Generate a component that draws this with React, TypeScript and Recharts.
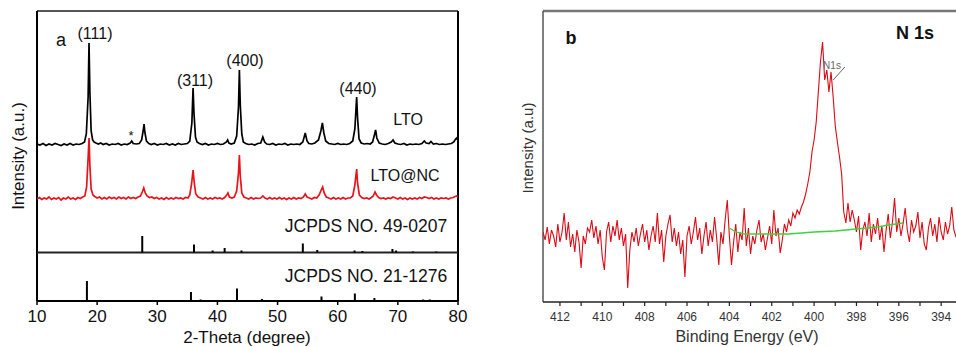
import { ComposedChart, Line, XAxis, YAxis, ReferenceLine } from 'recharts';

// ---- panel a: XRD ----
const XRD_TICKS = [10, 20, 30, 40, 50, 60, 70, 80];

// [2-theta, relative intensity]
const LTO_PATTERN: [number, number][] = [
  [10.0, 1], [10.5, 0], [11.0, 1.5], [11.5, -0.5], [12.0, 1], [12.5, 0], [13.0, 1.5], [13.5, 0.5],
  [14.0, -0.5], [14.5, 1], [15.0, 0], [15.5, 1.5], [16.0, 0], [16.5, 1], [17.0, 0.5], [17.5, 1.5],
  [17.9, 3], [18.2, 11], [18.5, 48], [18.65, 102], [18.8, 52], [19.0, 14], [19.25, 5], [19.5, 3],
  [19.8, 2], [20.2, 1], [20.6, 2], [21.0, 0.5], [21.5, 1.5], [22.0, 0], [22.5, 1], [23.0, 0.5],
  [23.5, 1.5], [24.0, 0], [24.5, 1], [25.0, 0.5], [25.5, 2], [25.75, 4], [26.0, 1.5], [26.5, 1],
  [27.0, 1.5], [27.4, 5], [27.65, 14], [27.8, 21], [27.95, 12], [28.2, 4], [28.6, 1.5], [29.0, 0.5],
  [29.5, 1.5], [30.0, 0], [30.5, 1], [31.0, 0.5], [31.5, 1.5], [32.0, 0], [32.5, 1], [33.0, 0],
  [33.5, 1.5], [34.0, 0.5], [34.5, 1], [35.0, 1.5], [35.4, 4], [35.75, 22], [35.95, 57], [36.1, 32],
  [36.35, 8], [36.6, 3], [37.0, 1.5], [37.5, 0.5], [38.0, 1.5], [38.5, 0], [39.0, 1], [39.5, 0.5],
  [40.0, 1.5], [40.5, 0.5], [41.0, 1], [41.5, 3], [41.7, 5], [41.9, 2], [42.3, 1], [42.8, 2],
  [43.2, 9], [43.5, 38], [43.65, 75], [43.8, 40], [44.05, 11], [44.3, 3], [44.7, 1.5], [45.2, 0.5],
  [45.7, 1], [46.2, 0], [46.7, 1.5], [47.2, 2], [47.55, 8], [47.85, 3], [48.2, 1], [48.7, 0.5],
  [49.2, 1.5], [49.7, 0], [50.2, 1], [50.7, 0.5], [51.2, 1.5], [51.7, 0], [52.2, 1], [52.7, 0.5],
  [53.2, 1], [53.7, 0.5], [54.2, 3], [54.6, 12], [54.9, 4], [55.2, 1.5], [55.7, 1], [56.2, 2],
  [56.8, 5], [57.2, 14], [57.45, 22], [57.7, 12], [58.0, 4], [58.5, 1.5], [59.0, 1], [59.5, 0.5],
  [60.0, 1.5], [60.5, 0.5], [61.0, 1], [61.5, 0.5], [62.0, 1.5], [62.5, 4], [62.85, 16], [63.15, 48],
  [63.3, 27], [63.55, 6], [63.9, 2], [64.4, 1], [64.9, 1.5], [65.4, 1], [65.8, 3], [66.1, 10],
  [66.3, 15], [66.5, 7], [66.9, 2], [67.4, 1], [67.9, 0.5], [68.4, 1.5], [68.9, 3], [69.2, 5],
  [69.5, 2], [70.0, 1], [70.5, 0.5], [71.0, 1.5], [71.5, 0], [72.0, 1], [72.5, 0.5], [73.0, 1],
  [73.5, 0.5], [74.0, 1.5], [74.4, 4], [74.7, 2], [75.2, 1.5], [75.5, 3.5], [75.9, 1], [76.4, 1.5],
  [76.9, 0.5], [77.4, 1], [77.9, 0.5], [78.4, 1], [78.9, 1.5], [79.3, 3], [79.6, 6], [79.8, 7],
  [80.0, 4],
];

// red curve
const LTO_NC_PATTERN: [number, number][] = [
  [10.0, 1], [10.4, 2.5], [10.8, 0.5], [11.2, 2], [11.6, 1], [12.0, 3], [12.4, 0.5], [12.8, 2],
  [13.2, 1], [13.6, 2.5], [14.0, 0], [14.4, 2], [14.8, 1], [15.2, 3], [15.6, 1], [16.0, 2],
  [16.4, 0.5], [16.8, 2.5], [17.2, 1.5], [17.6, 3], [17.95, 4], [18.25, 13], [18.5, 42], [18.65, 62],
  [18.8, 34], [19.0, 11], [19.3, 5], [19.6, 3.5], [20.0, 2], [20.4, 3], [20.8, 1], [21.2, 2.5],
  [21.6, 1], [22.0, 3], [22.4, 1.5], [22.8, 2.5], [23.2, 1], [23.6, 3], [24.0, 1.5], [24.4, 2.5],
  [24.8, 1], [25.2, 3], [25.6, 1.5], [26.0, 2.5], [26.4, 1.5], [26.8, 3], [27.2, 4], [27.5, 8],
  [27.75, 12], [28.0, 7], [28.3, 4], [28.7, 2.5], [29.1, 3], [29.5, 1.5], [29.9, 2.5], [30.3, 1],
  [30.7, 2], [31.1, 0.5], [31.5, 2.5], [31.9, 1], [32.3, 2], [32.7, 1], [33.1, 2.5], [33.5, 1.5],
  [33.9, 2], [34.3, 1], [34.7, 2.5], [35.1, 2], [35.4, 5], [35.7, 16], [35.95, 30], [36.15, 17],
  [36.4, 6], [36.8, 3], [37.2, 2], [37.6, 1], [38.0, 2.5], [38.4, 1], [38.8, 2], [39.2, 1],
  [39.6, 2.5], [40.0, 1.5], [40.4, 2], [40.8, 1], [41.2, 2.5], [41.55, 5], [41.75, 7], [42.0, 3],
  [42.4, 2], [42.8, 3], [43.2, 9], [43.5, 27], [43.65, 45], [43.8, 24], [44.05, 7], [44.4, 3],
  [44.8, 2], [45.2, 1], [45.6, 2.5], [46.0, 1], [46.4, 2], [46.8, 1.5], [47.2, 2], [47.55, 4],
  [47.9, 2], [48.3, 1], [48.7, 2.5], [49.1, 1], [49.5, 2], [49.9, 1], [50.3, 2.5], [50.7, 1],
  [51.1, 2], [51.5, 0.5], [51.9, 2], [52.3, 1], [52.7, 2.5], [53.1, 1], [53.5, 2], [53.9, 1.5],
  [54.3, 3], [54.6, 6], [54.9, 3], [55.3, 2], [55.7, 1], [56.1, 2.5], [56.5, 2], [56.9, 5],
  [57.25, 10], [57.5, 13], [57.75, 7], [58.1, 3], [58.5, 2], [58.9, 1], [59.3, 2.5], [59.7, 1],
  [60.1, 2], [60.5, 1], [60.9, 2.5], [61.3, 1], [61.7, 2], [62.1, 2], [62.5, 4], [62.85, 15],
  [63.15, 31], [63.3, 17], [63.6, 5], [64.0, 2.5], [64.4, 1.5], [64.8, 2], [65.2, 1], [65.6, 2.5],
  [65.9, 4], [66.2, 8], [66.45, 5], [66.8, 2.5], [67.2, 1.5], [67.6, 2], [68.0, 1], [68.4, 2],
  [68.8, 1.5], [69.2, 3], [69.6, 2], [70.0, 1], [70.4, 2.5], [70.8, 1], [71.2, 2], [71.6, 0.5],
  [72.0, 2], [72.4, 1], [72.8, 2], [73.2, 1], [73.6, 2.5], [74.0, 1.5], [74.4, 3], [74.8, 2.5],
  [75.2, 1.5], [75.6, 2.5], [76.0, 1], [76.4, 2], [76.8, 1], [77.2, 2], [77.6, 1.5], [78.0, 2],
  [78.4, 1], [78.8, 2], [79.2, 2.5], [79.5, 3.5], [79.8, 4], [80.0, 3],
];

// reference sticks [2-theta, height]
const JCPDS_49_0207: [number, number][] = [
  [27.5, 16.5], [36.1, 8], [39.2, 2], [41.2, 4.5], [44.0, 2], [54.2, 9], [56.6, 2.5],
  [62.8, 2], [64.1, 1.5], [69.1, 3.5], [69.7, 2], [72.5, 1], [76.4, 1],
];
const JCPDS_21_1276: [number, number][] = [
  [18.3, 20], [35.6, 9], [37.2, 1.5], [43.25, 12.5], [47.4, 2], [57.3, 4.5],
  [62.85, 7.5], [66.1, 3], [74.2, 1.5], [75.3, 1.5],
];

const LTO_OFFSET = 156;
const NC_OFFSET = 101;
const JCPDS_49_BASE = 48.5;

// ---- panel b: XPS N 1s ----
const XPS_TICKS = [394, 395, 396, 397, 398, 399, 400, 401, 402, 403, 404, 405, 406, 407, 408, 409, 410, 411, 412];

// [binding energy, counts (a.u.)]
const XPS_N1S: [number, number][] = [
  [412.8, 70], [412.7, 62], [412.6, 75], [412.5, 58], [412.4, 72], [412.3, 66], [412.2, 55], [412.1, 78],
  [412.0, 60], [411.9, 70], [411.8, 89], [411.7, 62], [411.6, 80], [411.5, 55], [411.4, 68], [411.3, 50],
  [411.2, 72], [411.1, 60], [411.0, 34], [410.9, 66], [410.8, 58], [410.7, 74], [410.6, 70], [410.5, 82],
  [410.4, 64], [410.3, 76], [410.2, 58], [410.1, 72], [410.0, 45], [409.9, 32], [409.8, 70], [409.7, 80],
  [409.6, 60], [409.5, 76], [409.4, 66], [409.3, 82], [409.2, 62], [409.1, 74], [409.0, 56], [408.9, 68],
  [408.8, 14], [408.7, 52], [408.6, 70], [408.5, 60], [408.4, 74], [408.3, 56], [408.2, 68], [408.1, 78],
  [408.0, 60], [407.9, 72], [407.8, 52], [407.7, 66], [407.6, 76], [407.5, 60], [407.4, 89], [407.3, 58],
  [407.2, 72], [407.1, 40], [407.0, 66], [406.9, 78], [406.8, 87], [406.7, 60], [406.6, 74], [406.5, 56],
  [406.4, 70], [406.3, 48], [406.2, 62], [406.1, 25], [406.0, 66], [405.9, 76], [405.8, 58], [405.7, 70],
  [405.6, 85], [405.5, 62], [405.4, 74], [405.3, 48], [405.2, 66], [405.1, 80], [405.0, 56], [404.9, 72],
  [404.8, 60], [404.7, 85], [404.6, 64], [404.5, 37], [404.4, 70], [404.3, 58], [404.2, 82], [404.1, 102],
  [404.0, 66], [403.9, 37], [403.8, 60], [403.7, 78], [403.6, 50], [403.5, 70], [403.4, 62], [403.3, 94],
  [403.2, 56], [403.1, 74], [403.0, 48], [402.9, 66], [402.8, 58], [402.7, 72], [402.6, 82], [402.5, 60],
  [402.4, 68], [402.3, 52], [402.2, 64], [402.1, 76], [402.0, 58], [401.9, 92], [401.8, 66], [401.7, 74],
  [401.6, 49], [401.5, 62], [401.4, 78], [401.3, 70], [401.2, 82], [401.1, 76], [401.0, 89], [400.9, 84],
  [400.8, 92], [400.7, 88], [400.6, 95], [400.5, 100], [400.4, 108], [400.3, 118], [400.2, 130], [400.1, 150],
  [400.0, 162], [399.9, 180], [399.8, 210], [399.7, 240], [399.6, 260], [399.5, 222], [399.4, 232], [399.3, 210],
  [399.2, 230], [399.1, 205], [399.0, 176], [398.9, 160], [398.8, 145], [398.7, 128], [398.6, 90], [398.5, 79],
  [398.4, 99], [398.3, 80], [398.2, 92], [398.1, 82], [398.0, 70], [397.9, 86], [397.8, 52], [397.7, 72],
  [397.6, 80], [397.5, 66], [397.4, 89], [397.3, 60], [397.2, 78], [397.1, 68], [397.0, 84], [396.9, 62],
  [396.8, 76], [396.7, 50], [396.6, 72], [396.5, 88], [396.4, 64], [396.3, 80], [396.2, 104], [396.1, 70],
  [396.0, 84], [395.9, 66], [395.8, 78], [395.7, 94], [395.6, 72], [395.5, 60], [395.4, 82], [395.3, 70],
  [395.2, 76], [395.1, 90], [395.0, 64], [394.9, 80], [394.8, 58], [394.7, 52], [394.6, 74], [394.5, 84],
  [394.4, 66], [394.3, 78], [394.2, 60], [394.1, 85], [394.0, 70], [393.9, 62], [393.8, 80], [393.7, 68],
  [393.6, 76], [393.5, 95], [393.4, 72], [393.3, 65],
];

// green fitted background
const XPS_BACKGROUND: [number, number][] = [
  [404.0, 74], [403.7, 70], [403.3, 68], [402.0, 68], [401.2, 68], [400.0, 70],
  [399.0, 71], [398.0, 73], [397.0, 75], [396.5, 77], [395.8, 79],
];

const FONT = '"Liberation Sans", Arial, sans-serif';

const toPoints = (rows: [number, number][], offset = 0) =>
  rows.map(([x, y]) => ({ x, y: y + offset }));

function Txt({ x, y, size, children, bold, color, rotate }: any) {
  return (
    <div
      style={{
        position: 'absolute',
        left: x,
        top: y,
        transform: `translate(-50%, -50%)${rotate ? ` rotate(${rotate}deg)` : ''}`,
        fontFamily: FONT,
        fontSize: size,
        fontWeight: bold ? 700 : 400,
        color: color || '#111',
        whiteSpace: 'nowrap',
        lineHeight: 1,
      }}
    >
      {children}
    </div>
  );
}

function XrdPanel() {
  return (
    <div style={{ position: 'absolute', left: 0, top: 0 }}>
      <ComposedChart width={470} height={347} margin={{ top: 11, right: 12, bottom: 16, left: 37 }}>
        <XAxis
          type="number"
          dataKey="x"
          domain={[10, 80]}
          ticks={XRD_TICKS}
          allowDataOverflow
          height={30}
          tickSize={4}
          tickMargin={5}
          axisLine={{ stroke: '#000', strokeWidth: 2 }}
          tickLine={{ stroke: '#000', strokeWidth: 1.5 }}
          tick={{ fill: '#111', fontSize: 17, fontFamily: FONT }}
        />
        <YAxis type="number" domain={[0, 290]} hide allowDataOverflow />
        <ReferenceLine y={290} stroke="#555" strokeWidth={2} />
        <ReferenceLine x={10} stroke="#000" strokeWidth={2} />
        <ReferenceLine x={80} stroke="#000" strokeWidth={2} />
        <ReferenceLine y={JCPDS_49_BASE} stroke="#222" strokeWidth={2} />
        {JCPDS_49_0207.map(([t, h]) => (
          <ReferenceLine
            key={'a' + t}
            segment={[{ x: t, y: JCPDS_49_BASE }, { x: t, y: JCPDS_49_BASE + h }]}
            stroke="#000"
            strokeWidth={2}
          />
        ))}
        {JCPDS_21_1276.map(([t, h]) => (
          <ReferenceLine
            key={'b' + t}
            segment={[{ x: t, y: 0 }, { x: t, y: h }]}
            stroke="#000"
            strokeWidth={2}
          />
        ))}
        <Line
          data={toPoints(LTO_PATTERN, LTO_OFFSET)}
          dataKey="y"
          stroke="#000"
          strokeWidth={1.7}
          dot={false}
          isAnimationActive={false}
        />
        <Line
          data={toPoints(LTO_NC_PATTERN, NC_OFFSET)}
          dataKey="y"
          stroke="#e8141b"
          strokeWidth={1.7}
          dot={false}
          isAnimationActive={false}
        />
      </ComposedChart>
    </div>
  );
}

function XpsPanel() {
  return (
    <div style={{ position: 'absolute', left: 500, top: 0 }}>
      <ComposedChart width={456} height={347} margin={{ top: 11, right: 0, bottom: 15, left: 43 }}>
        <XAxis
          type="number"
          dataKey="x"
          domain={[393.3, 412.8]}
          reversed
          ticks={XPS_TICKS}
          allowDataOverflow
          height={30}
          tickSize={4}
          tickMargin={6}
          tickFormatter={(v: number) => (v % 2 === 0 ? String(v) : '')}
          axisLine={{ stroke: '#222', strokeWidth: 1.5 }}
          tickLine={{ stroke: '#222', strokeWidth: 1.2 }}
          tick={{ fill: '#333', fontSize: 12, fontFamily: FONT }}
        />
        <YAxis type="number" domain={[0, 291]} hide allowDataOverflow />
        <ReferenceLine y={291} stroke="#777" strokeWidth={2.5} />
        <ReferenceLine x={412.8} stroke="#555" strokeWidth={1.5} />
        <Line
          data={toPoints(XPS_N1S)}
          dataKey="y"
          stroke="#dc0a14"
          strokeWidth={1.1}
          dot={false}
          isAnimationActive={false}
        />
        <Line
          data={toPoints(XPS_BACKGROUND)}
          dataKey="y"
          stroke="#3fd23f"
          strokeWidth={1.3}
          dot={false}
          isAnimationActive={false}
        />
        <ReferenceLine
          segment={[{ x: 399.1, y: 222 }, { x: 398.55, y: 235 }]}
          stroke="#666"
          strokeWidth={1}
        />
      </ComposedChart>
    </div>
  );
}

export default function App() {
  return (
    <div style={{ position: 'fixed', left: 0, top: 0, width: 956, height: 347, background: '#fff', overflow: 'hidden' }}>
      <XrdPanel />
      <XpsPanel />

      {/* panel a text */}
      <Txt x={18} y={156} size={17} rotate={-90}>Intensity (a.u.)</Txt>
      <Txt x={247} y={337} size={17}>2-Theta (degree)</Txt>
      <Txt x={61} y={40} size={18}>a</Txt>
      <Txt x={95} y={34} size={16}>(111)</Txt>
      <Txt x={195} y={81} size={16}>(311)</Txt>
      <Txt x={245} y={61} size={16}>(400)</Txt>
      <Txt x={358} y={89} size={16}>(440)</Txt>
      <Txt x={131} y={135} size={13}>*</Txt>
      <Txt x={408} y={120} size={16}>LTO</Txt>
      <Txt x={405} y={176} size={16}>LTO@NC</Txt>
      <Txt x={366} y={227} size={17.5}>JCPDS NO. 49-0207</Txt>
      <Txt x={366} y={277} size={17.5}>JCPDS NO. 21-1276</Txt>

      {/* panel b text */}
      <Txt x={527} y={148} size={15} color="#333" rotate={-90}>Intensity (a.u)</Txt>
      <Txt x={747} y={337} size={16} color="#333">Binding Energy (eV)</Txt>
      <Txt x={571} y={38} size={18} bold>b</Txt>
      <Txt x={915} y={33} size={18} bold>N 1s</Txt>
      <Txt x={832} y={66} size={10} color="#666">N1s</Txt>
    </div>
  );
}
